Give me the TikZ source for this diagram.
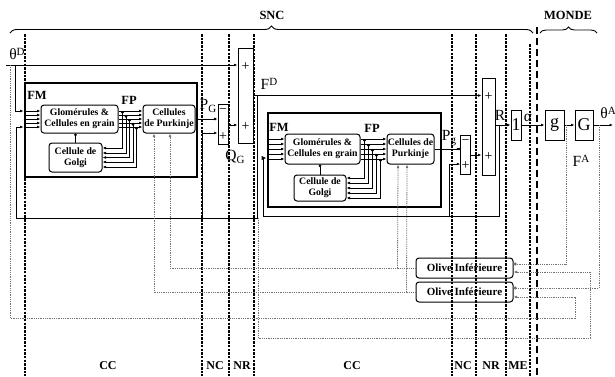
\documentclass[tikz,border=0pt]{standalone}
\usepackage{fontspec}
\setmainfont{Liberation Serif}
\usetikzlibrary{arrows.meta,decorations.pathreplacing,calc}
\newcommand{\lsub}[1]{\raisebox{-0.45ex}{\fontsize{11}{11}\selectfont #1}}
\newcommand{\lsup}[1]{\raisebox{0.6ex}{\fontsize{11}{11}\selectfont #1}}
\begin{document}
\begin{tikzpicture}[x=1pt,y=-1pt,
  cellbox/.style={draw,line width=1pt,rounded corners=3pt,inner sep=0pt,align=center,font=\fontsize{9.8}{11}\selectfont\bfseries},
  olivebox/.style={cellbox,font=\fontsize{11}{12}\selectfont\bfseries},
  rbox/.style={draw,line width=1pt,inner sep=0pt,font=\fontsize{18}{18}\selectfont},
  thickframe/.style={draw,line width=2.8pt,inner sep=0pt},
  sig/.style={line width=0.95pt},
  arr/.style={sig,-{Latex[length=3.5pt,width=2.8pt]}},
  dotarr/.style={sig,{Circle[length=2.6pt]}-{Latex[length=3.5pt,width=2.8pt]}},
  openarr/.style={sig,-{Latex[open,length=5pt,width=4.5pt]}},
  fb/.style={draw=black!55,line width=0.8pt,dash pattern=on 1pt off 0.8pt},
  fbarr/.style={fb,-{Latex[length=3.5pt,width=2.8pt]}},
  fbdot/.style={fb,-{Circle[length=3.2pt]}},
  bound/.style={line width=1.1pt,dash pattern=on 2.5pt off 1.2pt},
  lab/.style={font=\fontsize{12.5}{13}\selectfont\bfseries,inner sep=0pt},
  zlab/.style={font=\fontsize{12}{12}\selectfont\bfseries,inner sep=0pt},
  sigl/.style={font=\fontsize{15.5}{15}\selectfont,inner sep=0pt},
  sgn/.style={font=\fontsize{14}{14}\selectfont,inner sep=0pt},
  jdot/.style={circle,fill,inner sep=0pt,minimum size=2.8pt},
]
\useasboundingbox (0,0) rectangle (615,376);

% zone boundaries
\foreach \bx in {25,202,229,254,452,476,506} \draw[bound] (\bx,34) -- (\bx,376);
\draw[bound] (530,44) -- (530,376);
\draw[line width=2.4pt,dash pattern=on 7pt off 4pt] (537,27) -- (537,376);

% braces
\draw[line width=0.9pt,decorate,decoration={brace,amplitude=7pt}] (10,33) -- (533,33);
\draw[line width=0.9pt,decorate,decoration={brace,amplitude=6pt}] (540,33) -- (597,33);
\node[lab] (snc) at (272,15) {SNC};
\node[lab] (monde) at (568,15) {MONDE};

% bottom zone labels
\node[zlab] (cc1) at (108,366) {CC};
\node[zlab] (nc1) at (215,366) {NC};
\node[zlab] (nr1) at (242,366) {NR};
\node[zlab] (cc2) at (352,366) {CC};
\node[zlab] (nc2) at (463,366) {NC};
\node[zlab] (nr2) at (491,366) {NR};
\node[zlab] (me) at (518,366) {ME};

% frames
\node[thickframe,minimum width=172,minimum height=94] (fr1) at (111,130) {};
\node[thickframe,minimum width=173,minimum height=94] (fr2) at (354.5,160) {};

% cells
\node[cellbox,minimum width=77,minimum height=28] (glom1) at (79.5,119) {Glomérules \&\\Cellules en grain};
\node[cellbox,minimum width=52,minimum height=28] (purk1) at (169,119) {Cellules\\de Purkinje};
\node[cellbox,minimum width=53,minimum height=29] (golgi1) at (75.5,157.5) {Cellule de\\Golgi};
\node[cellbox,minimum width=75,minimum height=30] (glom2) at (322.5,149) {Glomérules \&\\Cellules en grain};
\node[cellbox,minimum width=47,minimum height=30] (purk2) at (410.5,149) {Cellules de\\Purkinje};
\node[cellbox,minimum width=52,minimum height=26] (golgi2) at (320,188) {Cellule de\\Golgi};
\node[olivebox,minimum width=97,minimum height=20] (oli1) at (464.5,268) {Olive Inférieure};
\node[olivebox,minimum width=97,minimum height=20] (oli2) at (464.5,292) {Olive Inférieure};

\node[lab] (fm1) at (37,95) {FM};
\node[lab] (fp1) at (129,100) {FP};
\node[lab] (fm2) at (279,127) {FM};
\node[lab] (fp2) at (372,128) {FP};

% adders and blocks
\node[rbox,minimum width=10,minimum height=40] (sadd1) at (223,124) {};
\node[rbox,minimum width=15,minimum height=95] (badd1) at (245.5,95.5) {};
\node[rbox,minimum width=9.5,minimum height=39] (sadd2) at (465.5,154.5) {};
\node[rbox,minimum width=13,minimum height=97] (badd2) at (488.5,126.5) {};
\node[rbox,minimum width=10,minimum height=30] (one) at (516,125) {1};
\node[rbox,minimum width=19,minimum height=30] (gb) at (554.5,125) {g};
\node[rbox,minimum width=18,minimum height=30] (Gb) at (584,125) {G};

\node[sgn] (s1m) at (223,111) {−};
\node[sgn] (s1p) at (223,137) {+};
\node[sgn] (b1a) at (245.5,67) {+};
\node[sgn] (b1b) at (245.5,127) {+};
\node[sgn] (s2m) at (465.5,142) {−};
\node[sgn] (s2p) at (465.5,166) {+};
\node[sgn] (b2a) at (488.5,97) {+};
\node[sgn] (b2b) at (488.5,157) {+};

% signal labels
\node[sigl] (thD) at (17,54) {θ\lsup{D}};
\node[sigl] (FD) at (269,84) {F\lsup{D}};
\node[sigl] (PG) at (208,106) {P\lsub{G}};
\node[sigl] (QG) at (235,157) {Q\lsub{G}};
\node[sigl] (Pg) at (449,138) {P\lsub{g}};
\node[sigl] (Rl) at (500,115) {R};
\node[sigl] (al) at (528,118) {α};
\node[sigl] (thA) at (608,113) {θ\lsup{A}};
\node[sigl] (FA) at (581,161) {F\lsup{A}};

% ---- cerebellum 1 internals
\foreach \dy in {-8,-4,0,4,8} {
  \draw[arr] ($(fr1.west |- glom1.west)+(0,\dy)$) -- ($(glom1.west)+(0,\dy)$);
  \draw[arr] ($(glom1.east)+(0,\dy)$) -- ($(purk1.west)+(0,\dy)$);
}
\foreach \xo/\dy/\gy in {4/-8/-9.5, 7.5/-4/-4.5, 11/0/0, 14.5/4/4.5, 18/8/9.5}
  \draw[dotarr] ($(glom1.east)+(\xo,\dy)$) |- ($(golgi1.east)+(0,\gy)$);
\draw[sig,-{Circle[length=2.6pt]}] (golgi1.north) -- (golgi1.north |- glom1.south);

% ---- cerebellum 2 internals
\foreach \dy in {-10,-5,0,5,10} {
  \draw[arr] ($(fr2.west |- glom2.west)+(0,\dy)$) -- ($(glom2.west)+(0,\dy)$);
  \draw[arr] ($(glom2.east)+(0,\dy)$) -- ($(purk2.west)+(0,\dy)$);
}
\foreach \xo/\dy/\gy in {4/-10/-10, 8/-5/-5, 12/0/0, 16/5/5, 20/10/10}
  \draw[dotarr] ($(glom2.east)+(\xo,\dy)$) |- ($(golgi2.east)+(0,\gy)$);
\draw[sig,-{Circle[length=2.6pt]}] (golgi2.north) -- (golgi2.north |- glom2.south);

% ---- main signals
\coordinate (thDin) at (6,65);
\draw[arr] (thDin) -- (badd1.west |- thDin);
\draw[arr] (15,65) |- ($(fr1.west |- glom1.west)+(0,-8)$);
\draw[arr] (purk1.east) -- (purk1.east -| sadd1.west);
\node[jdot] (d1) at (215,119) {};
\draw[arr] ($(sadd1.east)+(0,1)$) -- ($(badd1.west |- sadd1.east)+(0,1)$);
\node[jdot] (d2) at (230,125) {};
\draw[arr] (badd1.east) -- (badd1.east -| badd2.west);
\node[jdot] (d3) at (476,95.5) {};
\coordinate (fdk) at (257,95.5);
\coordinate (fbl) at (16,218);
\draw[arr] (fdk) |- (fbl) |- ($(fr1.west |- glom1.west)+(0,8)$);
\draw[arr] (202,218) |- ($(sadd1.west)+(0,9)$);

\draw[arr] (badd2.east |- one.west) -- (one.west);
\draw[openarr] (499,125) |- (263,216) |- ($(fr2.west |- glom2.west)+(0,9)$);
\draw[arr] (449,216) |- ($(sadd2.west)+(0,9.5)$);
\draw[arr] (purk2.east) -- (purk2.east -| sadd2.west);
\node[jdot] (d4) at (459,149) {};
\draw[arr] ($(sadd2.east)+(0,0.5)$) -- ($(badd2.west |- sadd2.east)+(0,0.5)$);
\node[jdot] (d5) at (476,155) {};
\draw[arr] (one.east) -- (gb.west);
\draw[arr] (gb.east) -- (Gb.west);
\coordinate (thAout) at (613,125);
\draw[arr] (Gb.east) -- (thAout);

% ---- climbing fibre / olive loops
\draw[fbarr] (10,65) |- (575,318) |- ($(oli2.east)+(0,5)$);
\draw[fbarr] (258,218) |- (590,338) |- ($(oli1.east)+(0,4)$);
\draw[fbdot] (566,125) |- ($(oli1.east)+(0,-4)$);
\draw[fbdot] (599,125) |- ($(oli2.east)+(0,-4)$);
\draw[fbarr] (oli1.west) -| ($(purk1.south)+(1,0)$);
\draw[fbarr] ($(oli1.west)+(-18,0)$) -- ($(purk2.south)+(-12.5,0)$);
\draw[fbarr] (oli2.west) -| ($(purk1.south)+(-15,0)$);
\draw[fbarr] ($(oli2.west)+(-9,0)$) -- ($(purk2.south)+(-3.5,0)$);
\end{tikzpicture}
\end{document}
